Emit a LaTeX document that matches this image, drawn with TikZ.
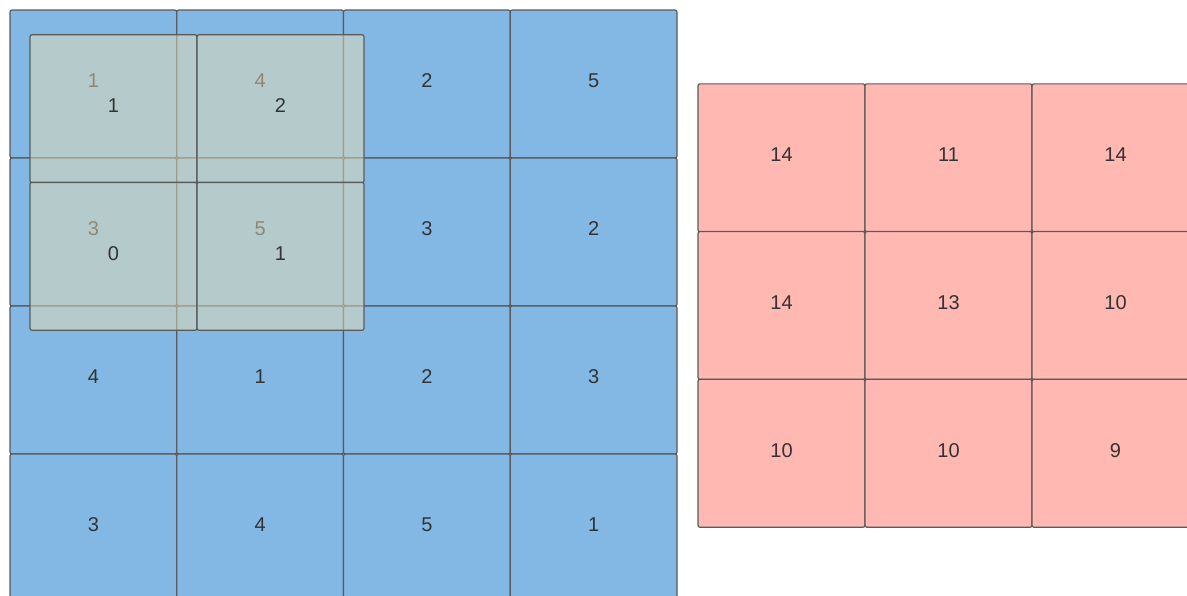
\documentclass[tikz,border=0pt]{standalone}
\usepackage{fontspec}
\setmainfont{Liberation Sans}
\definecolor{bluec}{HTML}{82B8E3}
\definecolor{redc}{HTML}{FFB8B2}
\definecolor{ovc}{HTML}{E8DEB5}
\definecolor{edgec}{HTML}{5A5A5A}
\definecolor{txtc}{HTML}{333333}
\begin{document}
\begin{tikzpicture}[x=0.5pt,y=-0.5pt,
  cell/.style={draw=edgec, line width=0.6pt, rounded corners=1pt, inner sep=0pt, outer sep=0pt},
  bcell/.style={cell, fill=bluec, minimum width=83.375pt, minimum height=74pt},
  rcell/.style={cell, fill=redc, minimum width=83.5pt, minimum height=74pt},
  ocell/.style={cell, fill=ovc, fill opacity=0.5, minimum width=83.5pt, minimum height=74pt},
  lab/.style={text=txtc, font=\fontsize{10}{12}\selectfont, inner sep=0pt}
]
\useasboundingbox (0,0) rectangle (1187,595);
% input grid
\foreach \v [count=\k from 0] in {1,4,2,5,3,5,3,2,4,1,2,3,3,4,5,1} {
  \pgfmathtruncatemacro\rr{int(\k/4)}
  \pgfmathtruncatemacro\cc{mod(\k,4)}
  \node[bcell] (b\k) at ({10+166.75*(\cc+0.5)},{10+148*(\rr+0.5)}) {};
  \node[lab] (bl\k) at ([yshift=1.5pt]b\k.center) {\v};
}
% kernel overlay
\foreach \v [count=\k from 0] in {1,2,0,1} {
  \pgfmathtruncatemacro\rr{int(\k/2)}
  \pgfmathtruncatemacro\cc{mod(\k,2)}
  \node[ocell] (k\k) at ({30+167*(\cc+0.5)},{35+147.5*(\rr+0.5)}) {};
}
\foreach \v [count=\k from 0] in {1,2,0,1} {
  \node[lab] (kl\k) at ([yshift=1.5pt]k\k.center) {\v};
}
% output grid
\foreach \v [count=\k from 0] in {14,11,14,14,13,10,10,10,9} {
  \pgfmathtruncatemacro\rr{int(\k/3)}
  \pgfmathtruncatemacro\cc{mod(\k,3)}
  \node[rcell] (r\k) at ({698+167*(\cc+0.5)},{84+147.7*(\rr+0.5)}) {};
  \node[lab] (rl\k) at ([yshift=1.5pt]r\k.center) {\v};
}
\end{tikzpicture}
\end{document}
